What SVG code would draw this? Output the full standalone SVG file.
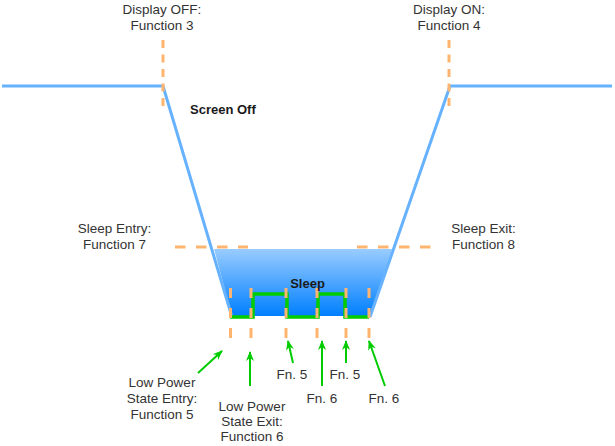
<svg xmlns="http://www.w3.org/2000/svg" width="615" height="446" viewBox="0 0 615 446">
  <style>
    text { font-family: "Liberation Sans", Arial, sans-serif; font-size: 13.5px; fill: #333333; }
    .c { text-anchor: middle; }
    .b { font-weight: bold; font-size: 13px; fill: #1a1a1a; }
    .blue { fill: none; stroke: #66B2FF; stroke-width: 3; stroke-linejoin: miter; }
    .dashv { stroke: #FFB570; stroke-width: 3; stroke-dasharray: 8 6.5; fill: none; }
    .dashh { stroke: #FFB570; stroke-width: 3; stroke-dasharray: 10.5 10.5; fill: none; }
    .dashs { stroke: #FFB570; stroke-width: 3; stroke-dasharray: 10 10; fill: none; }
    .wave { fill: none; stroke: #00CC00; stroke-width: 3.5; stroke-linejoin: miter; }
    .arr { stroke: #00CC00; stroke-width: 2; fill: none; marker-end: url(#ah); }
  </style>
  <defs>
    <linearGradient id="sleepGrad" x1="0" y1="0" x2="0" y2="1">
      <stop offset="0" stop-color="#99CCFF"/>
      <stop offset="1" stop-color="#007FFF"/>
    </linearGradient>
    <marker id="ah" viewBox="0 0 10 10" markerUnits="userSpaceOnUse" markerWidth="10" markerHeight="10" refX="9" refY="5" orient="auto">
      <path d="M0,1 L10,5 L0,9 L3,5 z" fill="#00CC00"/>
    </marker>
  </defs>

  <g id="sleep-region">
    <polygon points="214,249 392,249 371,316 232,316" fill="url(#sleepGrad)"/>
  </g>

  <g id="screen-curve">
    <polyline class="blue" points="2,86 163,86 232,317"/>
    <polyline class="blue" points="370,317 450,86 612,86"/>
  </g>

  <g id="power-wave">
    <polyline class="wave" points="230,317 253,317 253,294 287,294 287,317 318,317 318,294 345,294 345,317 369,317"/>
  </g>

  <g id="markers">
    <line class="dashv" x1="163" y1="40" x2="163" y2="108"/>
    <line class="dashv" x1="449" y1="40" x2="449" y2="108"/>
    <line class="dashh" x1="175" y1="247" x2="248" y2="247"/>
    <line class="dashh" x1="357" y1="247" x2="431" y2="247"/>
    <line class="dashs" x1="230.5" y1="288" x2="230.5" y2="338"/>
    <line class="dashs" x1="251" y1="288" x2="251" y2="338"/>
    <line class="dashs" x1="286" y1="288" x2="286" y2="338"/>
    <line class="dashs" x1="317" y1="288" x2="317" y2="338"/>
    <line class="dashs" x1="346" y1="288" x2="346" y2="338"/>
    <line class="dashs" x1="369" y1="288" x2="369" y2="338"/>
  </g>

  <g id="connectors">
    <line class="arr" x1="198" y1="373" x2="222" y2="351"/>
    <line class="arr" x1="250" y1="386" x2="250" y2="352"/>
    <line class="arr" x1="293" y1="363" x2="288" y2="341"/>
    <line class="arr" x1="322" y1="386" x2="322" y2="341"/>
    <line class="arr" x1="346" y1="363" x2="346" y2="341"/>
    <line class="arr" x1="385" y1="386" x2="369" y2="341"/>
  </g>

  <g id="label-display-off">
    <text class="c" x="162" y="14">Display OFF:</text>
    <text class="c" x="162" y="30">Function 3</text>
  </g>
  <g id="label-display-on">
    <text class="c" x="449" y="14">Display ON:</text>
    <text class="c" x="449" y="30">Function 4</text>
  </g>
  <g id="label-screen-off">
    <text class="b" x="190" y="114">Screen Off</text>
  </g>
  <g id="label-sleep-entry">
    <text class="c" x="114.5" y="233">Sleep Entry:</text>
    <text class="c" x="114.5" y="249">Function 7</text>
  </g>
  <g id="label-sleep-exit">
    <text class="c" x="483.5" y="233">Sleep Exit:</text>
    <text class="c" x="483.5" y="249">Function 8</text>
  </g>
  <g id="label-sleep">
    <text class="b c" x="307.5" y="288">Sleep</text>
  </g>
  <g id="label-lps-entry">
    <text class="c" x="162" y="387">Low Power</text>
    <text class="c" x="162" y="403">State Entry:</text>
    <text class="c" x="162" y="419">Function 5</text>
  </g>
  <g id="label-lps-exit">
    <text class="c" x="252" y="411">Low Power</text>
    <text class="c" x="252" y="426">State Exit:</text>
    <text class="c" x="252" y="441">Function 6</text>
  </g>
  <g id="label-fn5a"><text class="c" x="292" y="379">Fn. 5</text></g>
  <g id="label-fn6a"><text class="c" x="322" y="403">Fn. 6</text></g>
  <g id="label-fn5b"><text class="c" x="345" y="379">Fn. 5</text></g>
  <g id="label-fn6b"><text class="c" x="384" y="403">Fn. 6</text></g>
</svg>
